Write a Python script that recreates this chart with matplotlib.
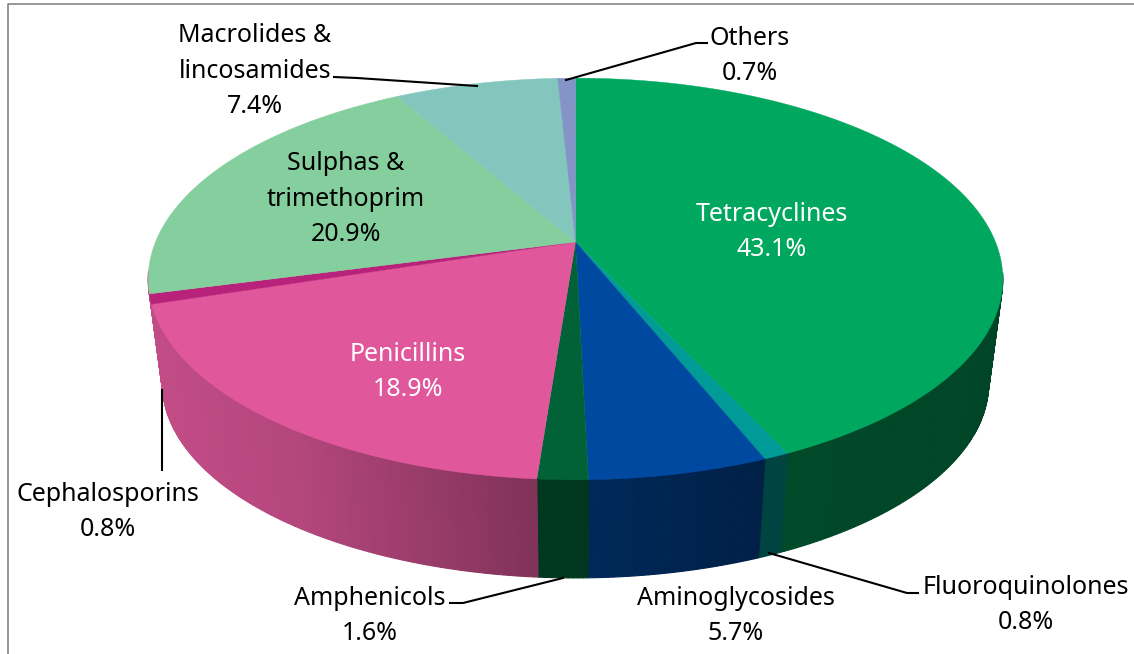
import numpy as np
import matplotlib
matplotlib.use('Agg')
import matplotlib.pyplot as plt

plt.rcParams['font.family'] = ['Noto Sans', 'DejaVu Sans']

# dados do grafico
categories = ['Tetracyclines', 'Fluoroquinolones', 'Aminoglycosides', 'Amphenicols', 'Penicillins',
              'Cephalosporins', 'Sulphas &\ntrimethoprim', 'Macrolides &\nlincosamides', 'Others']
values = [43.1, 0.8, 5.7, 1.6, 18.9, 0.8, 20.9, 7.4, 0.7]
colors = ['#00a85f', '#009a97', '#0049a0', '#006236', '#e0589b', '#b9227a', '#84cf9d', '#83c6bd', '#8494c7']
# na lateral esquerda so aparece o rosa
side_colors = ['#00a85f', '#009a97', '#0049a0', '#006236', '#e0589b', '#e0589b', '#e0589b', '#83c6bd', '#8494c7']
label_x = [772, 1026, 736, 370, 408, 108, 346, 255, 750]
label_y = [232, 605, 616, 616, 372, 512, 199, 71, 56]
label_colors = ['white', 'black', 'black', 'black', 'white', 'black', 'black', 'black', 'black']

leaders = [
    [(566, 80), (696, 43), (707, 43)],
    [(477, 86), (357, 78), (334, 77)],
    [(162, 390), (162, 470)],
    [(563, 578), (463, 603), (450, 603)],
    [(769, 553), (907, 593), (918, 593)],
]

# perspectiva da tampa e da base
k = 0.184
cx = 575.5
top = (242, 420, 194)
bottom = (348, 406, 187.6)


def project(theta, plane):
    cy, a, b = plane
    u = np.sin(theta)
    v = -np.cos(theta)
    w = 1 - k * v
    return cx + a * u / w, cy + b * v / w


def side_shade(x):
    return np.interp(x, [150, 300, 540, 590, 760, 1002], [0.87, 0.80, 0.57, 0.56, 0.44, 0.41])


fig = plt.figure(figsize=(11.34, 6.54), dpi=100)
ax = fig.add_axes([0, 0, 1, 1])
ax.set_xlim(0, 1134)
ax.set_ylim(654, 0)
ax.axis('off')

edges = np.cumsum([0] + values) / 100 * 2 * np.pi
edges[-1] = 2 * np.pi

# lateral (so a parte da frente)
for i in range(len(values)):
    n = max(int((edges[i + 1] - edges[i]) * 100), 2)
    t = np.linspace(edges[i], edges[i + 1], n + 1)
    rgb = np.array(matplotlib.colors.to_rgb(side_colors[i]))
    for j in range(n):
        if -np.cos(t[j:j + 2]).mean() < 0.15:
            continue
        x1, y1 = project(t[j:j + 2], top)
        x2, y2 = project(t[j:j + 2], bottom)
        xs = [x1[0], x1[1], x2[1], x2[0]]
        ys = [y1[0], y1[1], y2[1], y2[0]]
        c = rgb * side_shade(np.mean(xs))
        ax.fill(xs, ys, color=c, lw=0.8, zorder=2)

# tampa
for i in range(len(values)):
    t = np.linspace(edges[i], edges[i + 1], 200)
    x, y = project(t, top)
    ax.fill(np.r_[cx, x], np.r_[top[0], y], color=colors[i], lw=0.3, zorder=3)

# linhas de chamada
for pts in leaders:
    ax.plot([p[0] for p in pts], [p[1] for p in pts], color='black', lw=1.5, zorder=4,
            solid_joinstyle='miter')

# rotulos
for i in range(len(values)):
    ax.text(label_x[i], label_y[i], '%s\n%.1f%%' % (categories[i], values[i]), color=label_colors[i],
            ha='center', va='center', ma='center', fontsize=18, linespacing=1.54, zorder=5)

# moldura
ax.plot([7.5, 7.5, 1134], [654, 4, 4], color='#868686', lw=1.2, zorder=1)

fig.savefig('out.png', dpi=100)
